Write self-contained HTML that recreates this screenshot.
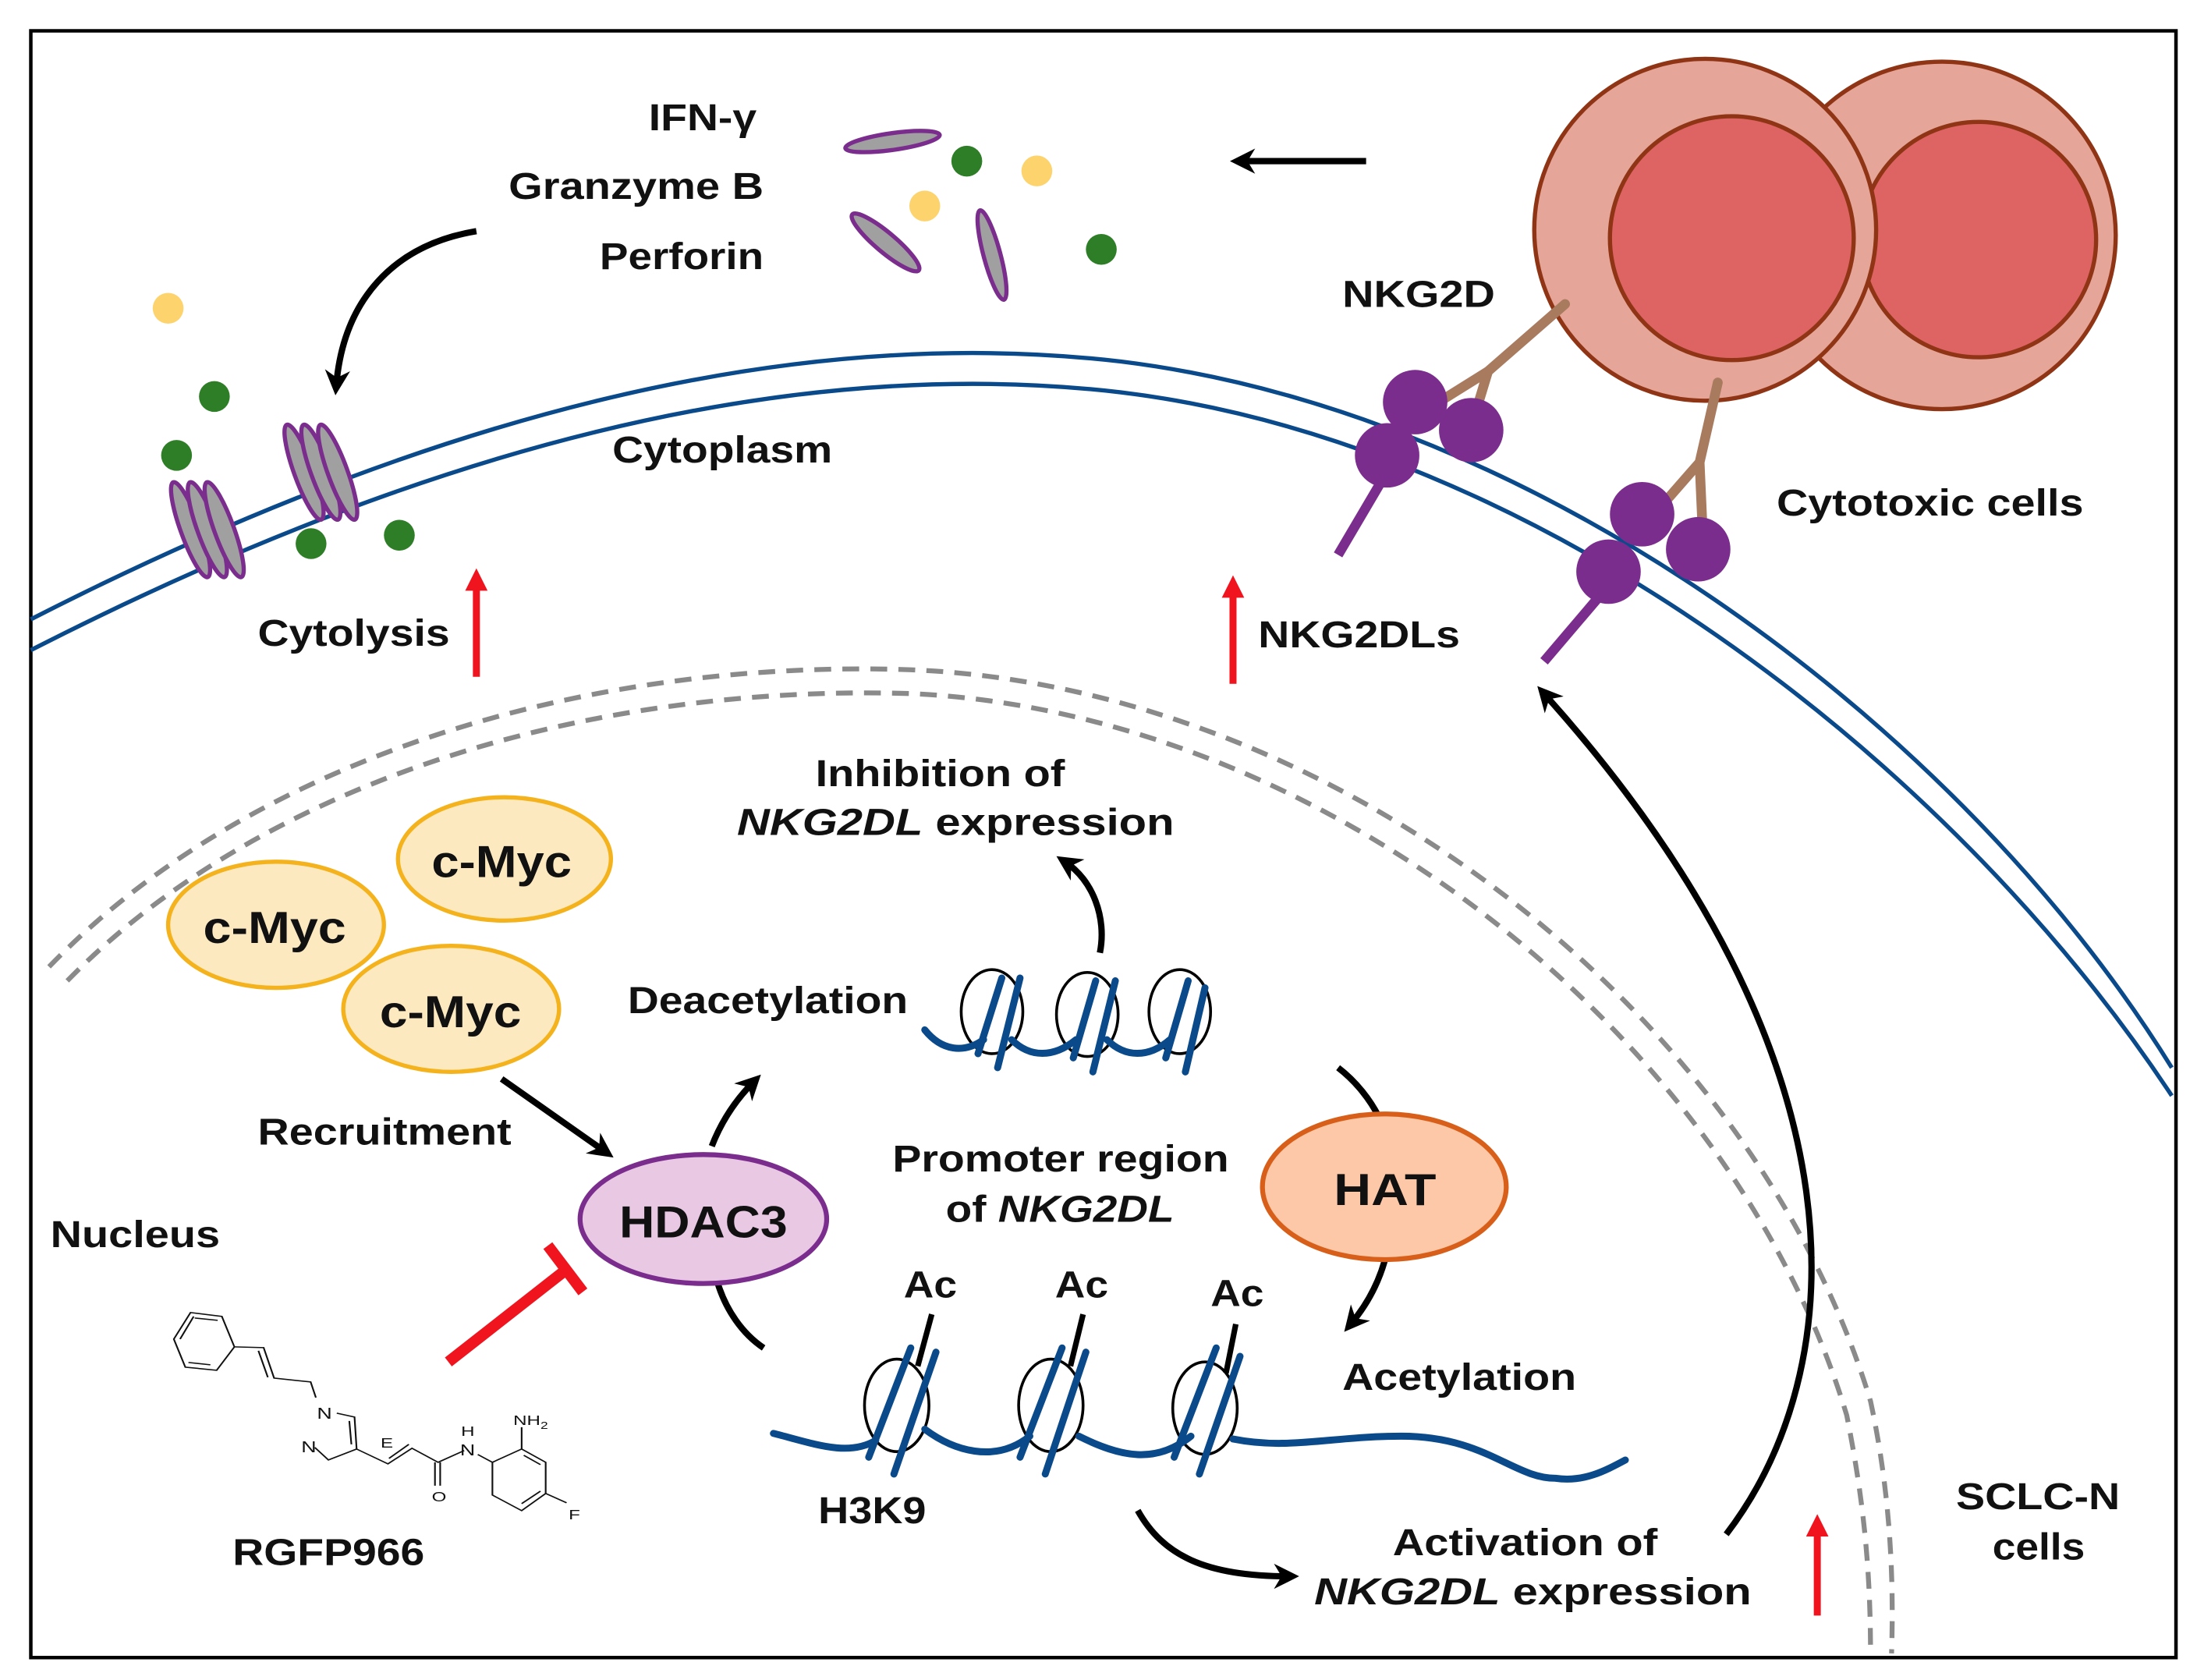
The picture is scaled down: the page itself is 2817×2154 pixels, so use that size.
<!DOCTYPE html>
<html><head><meta charset="utf-8"><style>
html,body{margin:0;padding:0;background:#fff;}
svg{display:block;}
text{font-family:"Liberation Sans",Arial,sans-serif;font-weight:bold;fill:#111;}
</style></head><body>
<svg width="2817" height="2154" viewBox="0 0 1568 1199" preserveAspectRatio="none" xmlns="http://www.w3.org/2000/svg">
<defs>
<marker id="ah" viewBox="0 0 10 10" refX="6" refY="5" markerWidth="4" markerHeight="4" orient="auto"><path d="M0,0 L10,5 L0,10 L3,5 z" fill="#000"/></marker>
<marker id="rh" viewBox="0 0 10 10" refX="6" refY="5" markerWidth="3.2" markerHeight="3.2" orient="auto"><path d="M0,0 L10,5 L0,10 z" fill="#f0141e"/></marker>
</defs>
<rect x="0" y="0" width="1568" height="1199" fill="#fff"/>
<rect x="22" y="22" width="1531" height="1161" fill="none" stroke="#000" stroke-width="2.5"/>

<path d="M22,442 C300,300 560,230 800,258 C1100,295 1400,520 1550,762" fill="none" stroke="#0a4a8a" stroke-width="3"/>
<path d="M22,464 C300,322 560,252 800,280 C1095,316 1390,540 1550,782" fill="none" stroke="#0a4a8a" stroke-width="3"/>

<g fill="none" stroke="#8a8a8a" stroke-width="3.5" stroke-dasharray="12,8">
<path d="M35,690 C180,540 420,470 650,478 C950,490 1250,720 1335,1000 C1348,1060 1352,1120 1350,1180"/>
<path d="M48,700 C190,555 425,488 650,495 C940,508 1235,735 1318,1010 C1330,1070 1335,1120 1335,1180"/>
</g>

<circle cx="1386" cy="168" r="124" fill="#e5a598" stroke="#8f3515" stroke-width="3"/>
<circle cx="1412" cy="171" r="84" fill="#de6464" stroke="#8f3515" stroke-width="3"/>
<circle cx="1217" cy="164" r="122" fill="#e5a598" stroke="#8f3515" stroke-width="3"/>
<circle cx="1236" cy="170" r="87" fill="#de6464" stroke="#8f3515" stroke-width="3"/>

<g stroke="#a87a5e" stroke-width="7" fill="none" stroke-linecap="round">
<path d="M1117,217 L1062,265 L1022,290"/><path d="M1062,265 L1052,298"/>
<path d="M1226,273 L1213,330 L1185,362"/><path d="M1213,330 L1215,375"/>
</g>
<g fill="#7b2d8e">
<circle cx="1010" cy="287" r="23"/><circle cx="1050" cy="307" r="23"/><circle cx="990" cy="325" r="23"/>
<circle cx="1172" cy="367" r="23"/><circle cx="1212" cy="392" r="23"/><circle cx="1148" cy="408" r="23"/>
</g>
<g stroke="#7b2d8e" stroke-width="7"><line x1="988" y1="340" x2="955" y2="396"/><line x1="1142" y1="425" x2="1102" y2="472"/></g>

<g fill="#a0a0a0" stroke="#7b2d8e" stroke-width="3">
<ellipse cx="637" cy="101" rx="34" ry="6" transform="rotate(-8 637 101)"/>
<ellipse cx="632" cy="173" rx="31" ry="7" transform="rotate(40 632 173)"/>
<ellipse cx="708" cy="182" rx="33" ry="6" transform="rotate(75 708 182)"/>
</g>
<g fill="#fdd36e"><circle cx="120" cy="220" r="11"/><circle cx="660" cy="147" r="11"/><circle cx="740" cy="122" r="11"/></g>
<g fill="#2e7d27"><circle cx="153" cy="283" r="11"/><circle cx="126" cy="325" r="11"/><circle cx="690" cy="115" r="11"/><circle cx="786" cy="178" r="11"/><circle cx="222" cy="388" r="11"/><circle cx="285" cy="382" r="11"/></g>

<g fill="#a0a0a0" stroke="#7b2d8e" stroke-width="3">
<ellipse cx="136" cy="378" rx="7" ry="36" transform="rotate(-20 136 378)"/>
<ellipse cx="148" cy="378" rx="7" ry="36" transform="rotate(-20 148 378)"/>
<ellipse cx="160" cy="378" rx="7" ry="36" transform="rotate(-20 160 378)"/>
<ellipse cx="217" cy="337" rx="7" ry="36" transform="rotate(-20 217 337)"/>
<ellipse cx="229" cy="337" rx="7" ry="36" transform="rotate(-20 229 337)"/>
<ellipse cx="241" cy="337" rx="7" ry="36" transform="rotate(-20 241 337)"/>
</g>

<g fill="none" stroke="#000" stroke-width="4.5" marker-end="url(#ah)">
<path d="M340,165 C280,175 245,215 240,275"/>
<path d="M975,115 L885,115"/>
<path d="M1232,1095 C1320,980 1340,760 1102,495"/>
<path d="M358,770 L432,822"/>
<path d="M508,818 C515,800 525,785 538,772"/>
<path d="M785,680 C790,655 780,628 760,615"/>
<path d="M990,893 C985,915 975,932 964,945"/>
<path d="M812,1078 C830,1110 860,1125 920,1125"/>
</g>
<g fill="none" stroke="#000" stroke-width="4.5">
<path d="M545,962 C530,952 518,935 512,915"/>
<path d="M955,762 C968,772 978,785 984,797"/>
</g>

<g stroke="#f0141e" stroke-width="5" marker-end="url(#rh)">
<line x1="340" y1="483" x2="340" y2="412"/>
<line x1="880" y1="488" x2="880" y2="417"/>
<line x1="1297" y1="1153" x2="1297" y2="1087"/>
</g>
<g stroke="#f0141e" stroke-width="8"><line x1="320" y1="972" x2="403" y2="907"/><line x1="391" y1="889" x2="416" y2="922"/></g>

<g stroke="#f4b21c" stroke-width="3" fill="#fde9c0">
<ellipse cx="360" cy="613" rx="76" ry="44"/>
<ellipse cx="197" cy="660" rx="77" ry="45"/>
<ellipse cx="322" cy="720" rx="77" ry="45"/>
</g>
<ellipse cx="502" cy="870" rx="88" ry="46" fill="#e9c8e4" stroke="#7b2d8e" stroke-width="3.5"/>
<ellipse cx="988" cy="847" rx="87" ry="52" fill="#fdc8a8" stroke="#d85f1a" stroke-width="3.5"/>

<g fill="none" stroke="#000" stroke-width="2">
<ellipse cx="708" cy="722" rx="22" ry="30"/><ellipse cx="776" cy="724" rx="22" ry="30"/><ellipse cx="842" cy="722" rx="22" ry="30"/>
</g>
<g fill="none" stroke="#0a4a8a" stroke-width="5" stroke-linecap="round">
<path d="M660,735 C672,750 688,752 702,742"/>
<path d="M722,742 C735,755 752,755 768,742"/>
<path d="M790,742 C803,755 820,755 835,742"/>
<line x1="698" y1="752" x2="715" y2="698"/><line x1="712" y1="762" x2="728" y2="698"/>
<line x1="766" y1="755" x2="782" y2="700"/><line x1="780" y1="765" x2="796" y2="700"/>
<line x1="832" y1="755" x2="848" y2="700"/><line x1="846" y1="765" x2="860" y2="705"/>
</g>

<g fill="none" stroke="#000" stroke-width="2">
<ellipse cx="640" cy="1003" rx="23" ry="33"/><ellipse cx="750" cy="1003" rx="23" ry="33"/><ellipse cx="860" cy="1005" rx="23" ry="33"/>
</g>
<g fill="none" stroke="#0a4a8a" stroke-width="5" stroke-linecap="round">
<path d="M552,1023 C580,1030 605,1040 625,1028"/>
<path d="M660,1020 C680,1035 710,1045 735,1025"/>
<path d="M770,1025 C800,1040 825,1045 850,1025"/>
<path d="M880,1027 C920,1035 950,1025 1000,1025 C1060,1025 1080,1055 1110,1055 C1130,1058 1145,1050 1160,1042"/>
<line x1="620" y1="1040" x2="650" y2="962"/><line x1="638" y1="1052" x2="668" y2="965"/>
<line x1="728" y1="1040" x2="758" y2="962"/><line x1="746" y1="1052" x2="775" y2="965"/>
<line x1="838" y1="1040" x2="868" y2="962"/><line x1="856" y1="1052" x2="885" y2="968"/>
</g>
<g stroke="#000" stroke-width="4"><line x1="665" y1="938" x2="655" y2="975"/><line x1="773" y1="938" x2="764" y2="975"/><line x1="882" y1="945" x2="875" y2="980"/></g>

<!-- molecule -->
<g transform="translate(100.2,0) scale(0.7455,0.5566) translate(-180,0)">
<g fill="none" stroke="#111" stroke-width="1.6">
<polygon points="228,1683 258,1688 270,1727 253,1757 223,1753 212,1717"/>
<line x1="232" y1="1690" x2="254" y2="1693"/><line x1="247" y1="1750" x2="226" y2="1747"/><line x1="218" y1="1717" x2="231" y2="1688"/>
<polyline points="270,1727 298,1728 308,1767 343,1772 348,1792"/>
<line x1="293" y1="1732" x2="302" y2="1766"/>
<polyline points="368,1812 385,1817 387,1858 360,1872 347,1856"/>
<line x1="380" y1="1822" x2="382" y2="1852"/>
<polyline points="387,1858 417,1877 440,1857 465,1875 490,1860"/>
<line x1="418" y1="1870" x2="437" y2="1852"/>
<line x1="467" y1="1875" x2="467" y2="1905"/><line x1="462" y1="1875" x2="462" y2="1905"/>
<polyline points="503,1865 517,1875 545,1858 568,1875 568,1915 545,1937 517,1917 517,1875"/>
<line x1="547" y1="1866" x2="563" y2="1878"/><line x1="563" y1="1912" x2="545" y2="1928"/>
<line x1="545" y1="1858" x2="545" y2="1830"/><line x1="568" y1="1915" x2="588" y2="1927"/>
</g>
<g font-size="20">
<text x="349" y="1819" style="font-weight:normal">N</text>
<text x="334" y="1862" style="font-weight:normal">N</text>
<text x="410" y="1856" style="font-weight:normal" font-size="18">E</text>
<text x="487" y="1841" style="font-weight:normal" font-size="18">H</text>
<text x="486" y="1866" style="font-weight:normal">N</text>
<text x="459" y="1925" style="font-weight:normal" font-size="18">O</text>
<text x="537" y="1827" style="font-weight:normal" font-size="18">NH<tspan font-size="13" dy="5">2</tspan></text>
<text x="590" y="1948" style="font-weight:normal" font-size="18">F</text>
</g>
</g>

<g font-size="27">
<text x="463" y="93" textLength="77" lengthAdjust="spacingAndGlyphs">IFN-γ</text>
<text x="363" y="142" textLength="182" lengthAdjust="spacingAndGlyphs">Granzyme B</text>
<text x="428" y="192" textLength="117" lengthAdjust="spacingAndGlyphs">Perforin</text>
<text x="958" y="219" textLength="109" lengthAdjust="spacingAndGlyphs">NKG2D</text>
<text x="437" y="330" textLength="157" lengthAdjust="spacingAndGlyphs">Cytoplasm</text>
<text x="1268" y="368" textLength="219" lengthAdjust="spacingAndGlyphs">Cytotoxic cells</text>
<text x="184" y="461" textLength="137" lengthAdjust="spacingAndGlyphs">Cytolysis</text>
<text x="898" y="462" textLength="144" lengthAdjust="spacingAndGlyphs">NKG2DLs</text>
<text x="582" y="561" textLength="178" lengthAdjust="spacingAndGlyphs">Inhibition of</text>
<text x="526" y="596" textLength="312" lengthAdjust="spacingAndGlyphs"><tspan font-style="italic">NKG2DL</tspan>  expression</text>
<text x="448" y="723" textLength="200" lengthAdjust="spacingAndGlyphs">Deacetylation</text>
<text x="184" y="817" textLength="181" lengthAdjust="spacingAndGlyphs">Recruitment</text>
<text x="637" y="836" textLength="240" lengthAdjust="spacingAndGlyphs">Promoter region</text>
<text x="675" y="872" textLength="163" lengthAdjust="spacingAndGlyphs">of <tspan font-style="italic">NKG2DL</tspan></text>
<text x="36" y="890" textLength="121" lengthAdjust="spacingAndGlyphs">Nucleus</text>
<text x="958" y="992" textLength="167" lengthAdjust="spacingAndGlyphs">Acetylation</text>
<text x="584" y="1087" textLength="77" lengthAdjust="spacingAndGlyphs">H3K9</text>
<text x="994" y="1110" textLength="189" lengthAdjust="spacingAndGlyphs">Activation of</text>
<text x="938" y="1145" textLength="312" lengthAdjust="spacingAndGlyphs"><tspan font-style="italic">NKG2DL</tspan>  expression</text>
<text x="1396" y="1077" textLength="117" lengthAdjust="spacingAndGlyphs">SCLC-N</text>
<text x="1422" y="1113" textLength="66" lengthAdjust="spacingAndGlyphs">cells</text>
<text x="166" y="1117" textLength="137" lengthAdjust="spacingAndGlyphs">RGFP966</text>
<text x="645" y="926" textLength="38" lengthAdjust="spacingAndGlyphs">Ac</text>
<text x="753" y="926" textLength="38" lengthAdjust="spacingAndGlyphs">Ac</text>
<text x="864" y="932" textLength="38" lengthAdjust="spacingAndGlyphs">Ac</text>
</g>
<g font-size="32">
<text x="308" y="626" textLength="100" lengthAdjust="spacingAndGlyphs">c-Myc</text>
<text x="145" y="673" textLength="102" lengthAdjust="spacingAndGlyphs">c-Myc</text>
<text x="271" y="733" textLength="101" lengthAdjust="spacingAndGlyphs">c-Myc</text>
<text x="442" y="883" textLength="120" lengthAdjust="spacingAndGlyphs">HDAC3</text>
<text x="952" y="860" textLength="73" lengthAdjust="spacingAndGlyphs">HAT</text>
</g>
</svg>
</body></html>
